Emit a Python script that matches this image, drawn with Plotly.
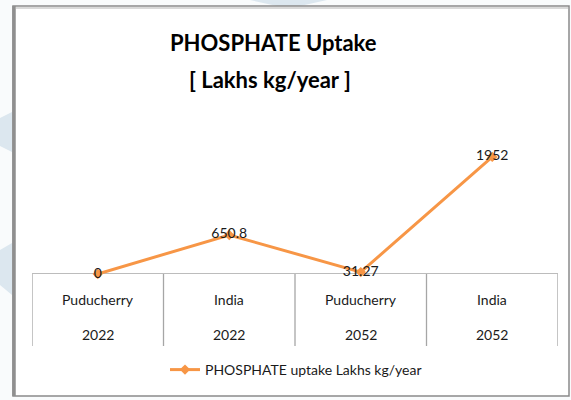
import plotly.graph_objects as go

regions = ["Puducherry", "India", "Puducherry", "India"]
years = ["2022", "2022", "2052", "2052"]
values = [0, 650.8, 31.27, 1952]
value_labels = ["0", "650.8", "31.27", "1952"]
series_name = "PHOSPHATE uptake Lakhs kg/year"
title_lines = ["PHOSPHATE Uptake", "[ Lakhs kg/year ]"]

W, H = 571, 400
L, R, T, B = 32, 558, 124, 274
PW, PH = R - L, B - T

def px(x):
    return (x - L) / PW

def py(y):
    return (B - y) / PH

FONT = "Lato"
ORANGE = "#F79646"
GRID = "#a6a6a6"
TXT = "#1a1a1a"

xs = list(range(len(values)))

fig = go.Figure()
fig.add_trace(go.Scatter(
    x=xs, y=values, mode="lines+markers+text",
    name=series_name,
    line=dict(color=ORANGE, width=3),
    marker=dict(symbol="diamond", size=8, color=ORANGE),
    text=value_labels, textposition="middle center",
    textfont=dict(family=FONT, size=14, color=TXT),
    cliponaxis=False,
))

shapes = []
# watermark shapes
wm = "#dce7ef"
shapes.append(dict(type="path", xref="paper", yref="paper",
                   path=f"M {px(0)},{py(118)} L {px(12)},{py(112)} L {px(12)},{py(152)} L {px(0)},{py(146)} Z",
                   fillcolor=wm, line=dict(width=0), layer="below"))
shapes.append(dict(type="path", xref="paper", yref="paper",
                   path=f"M {px(0)},{py(250)} L {px(12)},{py(243)} L {px(12)},{py(295)} L {px(0)},{py(285)} Z",
                   fillcolor=wm, line=dict(width=0), layer="below"))
shapes.append(dict(type="path", xref="paper", yref="paper",
                   path=f"M {px(250)},{py(0)} L {px(327)},{py(0)} L {px(300)},{py(6)} L {px(277)},{py(6)} Z",
                   fillcolor=wm, line=dict(width=0), layer="below"))
# chart frame
shapes.append(dict(type="rect", xref="paper", yref="paper",
                   x0=px(13), x1=px(569), y0=py(396), y1=py(6),
                   fillcolor="white", line=dict(color="#8a8a8a", width=1.5), layer="below"))
shapes.append(dict(type="line", xref="paper", yref="paper",
                   x0=px(14), x1=px(14), y0=py(396), y1=py(6),
                   line=dict(color="#8f8f8f", width=3.5), layer="below"))
shapes.append(dict(type="line", xref="paper", yref="paper",
                   x0=px(16), x1=px(568), y0=py(8), y1=py(8),
                   line=dict(color="#d9d9d9", width=2), layer="below"))
# category axis line
shapes.append(dict(type="line", xref="x", yref="y", x0=-0.5, x1=3.5, y0=0, y1=0,
                   line=dict(color=GRID, width=1.3), layer="below"))
# category cell dividers
for i in range(len(values) + 1):
    shapes.append(dict(type="line", xref="x", yref="paper", x0=i - 0.5, x1=i - 0.5,
                       y0=0, y1=py(346), line=dict(color=GRID, width=1.3), layer="below"))

annotations = []
for i, (r, yv) in enumerate(zip(regions, years)):
    annotations.append(dict(x=i, y=py(299), xref="x", yref="paper", text=r,
                            showarrow=False, yanchor="middle",
                            font=dict(family=FONT, size=14, color=TXT)))
    annotations.append(dict(x=i, y=py(334), xref="x", yref="paper", text=yv,
                            showarrow=False, yanchor="middle",
                            font=dict(family=FONT, size=14, color=TXT)))
annotations.append(dict(x=px(273), y=py(42), xref="paper", yref="paper", text=f"<b>{title_lines[0]}</b>",
                        showarrow=False, yanchor="middle",
                        font=dict(family=FONT, size=22, color="#000000")))
annotations.append(dict(x=px(270), y=py(79), xref="paper", yref="paper", text=f"<b>{title_lines[1]}</b>",
                        showarrow=False, yanchor="middle",
                        font=dict(family=FONT, size=22, color="#000000")))

fig.update_layout(
    width=W, height=H,
    margin=dict(l=L, r=W - R, t=T, b=H - B),
    paper_bgcolor="#f9fbfc", plot_bgcolor="rgba(0,0,0,0)",
    xaxis=dict(range=[-0.5, 3.5], visible=False, fixedrange=True),
    yaxis=dict(range=[0, 2500], visible=False, fixedrange=True),
    shapes=shapes, annotations=annotations,
    showlegend=True,
    legend=dict(orientation="h", x=px(165), y=py(370), xanchor="left", yanchor="middle",
                bgcolor="rgba(0,0,0,0)", font=dict(family=FONT, size=14, color=TXT)),
)

fig.write_html("out.html", config={"displayModeBar": False},
               post_script="document.body.style.margin='0';document.body.style.overflow='hidden';")
